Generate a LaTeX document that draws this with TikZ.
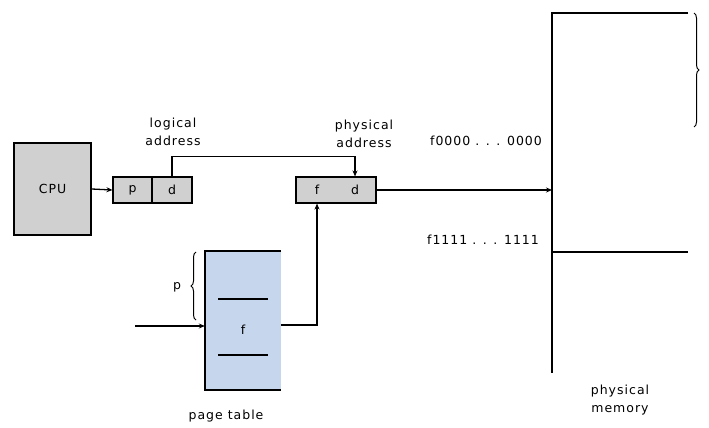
\documentclass[tikz,border=0pt]{standalone}
\usepackage{fontspec}
\setmainfont[LetterSpace=8]{DejaVu Sans}
\usetikzlibrary{arrows.meta,decorations.pathreplacing}
\definecolor{boxgray}{RGB}{208,208,208}
\definecolor{ptblue}{RGB}{198,214,236}
\begin{document}
\begin{tikzpicture}[x=1pt,y=-1pt,
  every node/.style={font=\fontsize{12.5}{18}\selectfont},
  lbl/.style={align=center, inner sep=0pt},
  field/.style={draw=black, line width=1.1pt, fill=boxgray, minimum height=26pt, inner sep=0pt},
  conn/.style={line width=1.3pt},
  arr/.style={conn, -{Stealth[length=6pt,width=5pt]}},
  br/.style={line width=1pt, decorate, decoration={brace, amplitude=5pt}}]
\useasboundingbox (0,0) rectangle (709,428);
% CPU
\node[draw=black, line width=1.3pt, fill=boxgray, minimum width=77pt, minimum height=92pt, inner sep=0pt] (cpu) at (52.5,189) {CPU};
% logical address
\node[field, minimum width=39pt] (lp) at (132.5,190) {p};
\node[field, minimum width=40pt] (ld) at (172,190) {d};
\node[lbl] (llab) at (173,132) {logical\\address};
% physical address
\node[field, minimum width=80pt] (phys) at (336,190) {};
\node[inner sep=0pt] (pf) at (317,190) {f};
\node[inner sep=0pt] (pd) at (355,190) {d};
\node[lbl] (plab) at (364,134) {physical\\address};
% page table
\node[fill=ptblue, minimum width=76pt, minimum height=139pt, inner sep=0pt] (pt) at (243,320.5) {};
\draw[line width=1.6pt] (pt.north east) -- (pt.north west) -- (pt.south west) -- (pt.south east);
\draw[line width=1.6pt] (218,299) -- (268,299);
\draw[line width=1.6pt] (218,355) -- (268,355);
\node[inner sep=0pt] (ptf) at (243,330) {f};
\node[lbl] (ptlab) at (226,416) {page table};
\draw[br] (196,320) -- (196,252);
\node[inner sep=0pt] (ptp) at (177,287) {p};
% physical memory
\coordinate (mtop) at (552,13);
\coordinate (mtopr) at (688,13);
\coordinate (mbot) at (552,373);
\coordinate (mmid) at (552,252);
\coordinate (mmidr) at (688,252);
\draw[line width=1.7pt] (mtopr) -- (mtop) -- (mbot);
\draw[line width=1.7pt] (mmid) -- (mmidr);
\draw[br] (694,13) -- (694,127);
\node[lbl] (mlab) at (620,400) {physical\\memory};
\node[inner sep=0pt] (f0) at (486,141) {f0000 . . . 0000};
\node[inner sep=0pt] (f1) at (483,240) {f1111 . . . 1111};
% connectors
\draw[arr] (cpu.east) -- (lp.west);
\draw[arr] (ld.north) -- ++(0,-20) -| (pd.north |- phys.north);
\draw[arr] (phys.east) -- (phys.east -| mtop);
\coordinate (pin) at (135,326);
\draw[arr] (pin) -- (pin -| pt.west);
\draw[arr] (pt.east |- 0,325) -| (pf.south |- phys.south);
\end{tikzpicture}
\end{document}
